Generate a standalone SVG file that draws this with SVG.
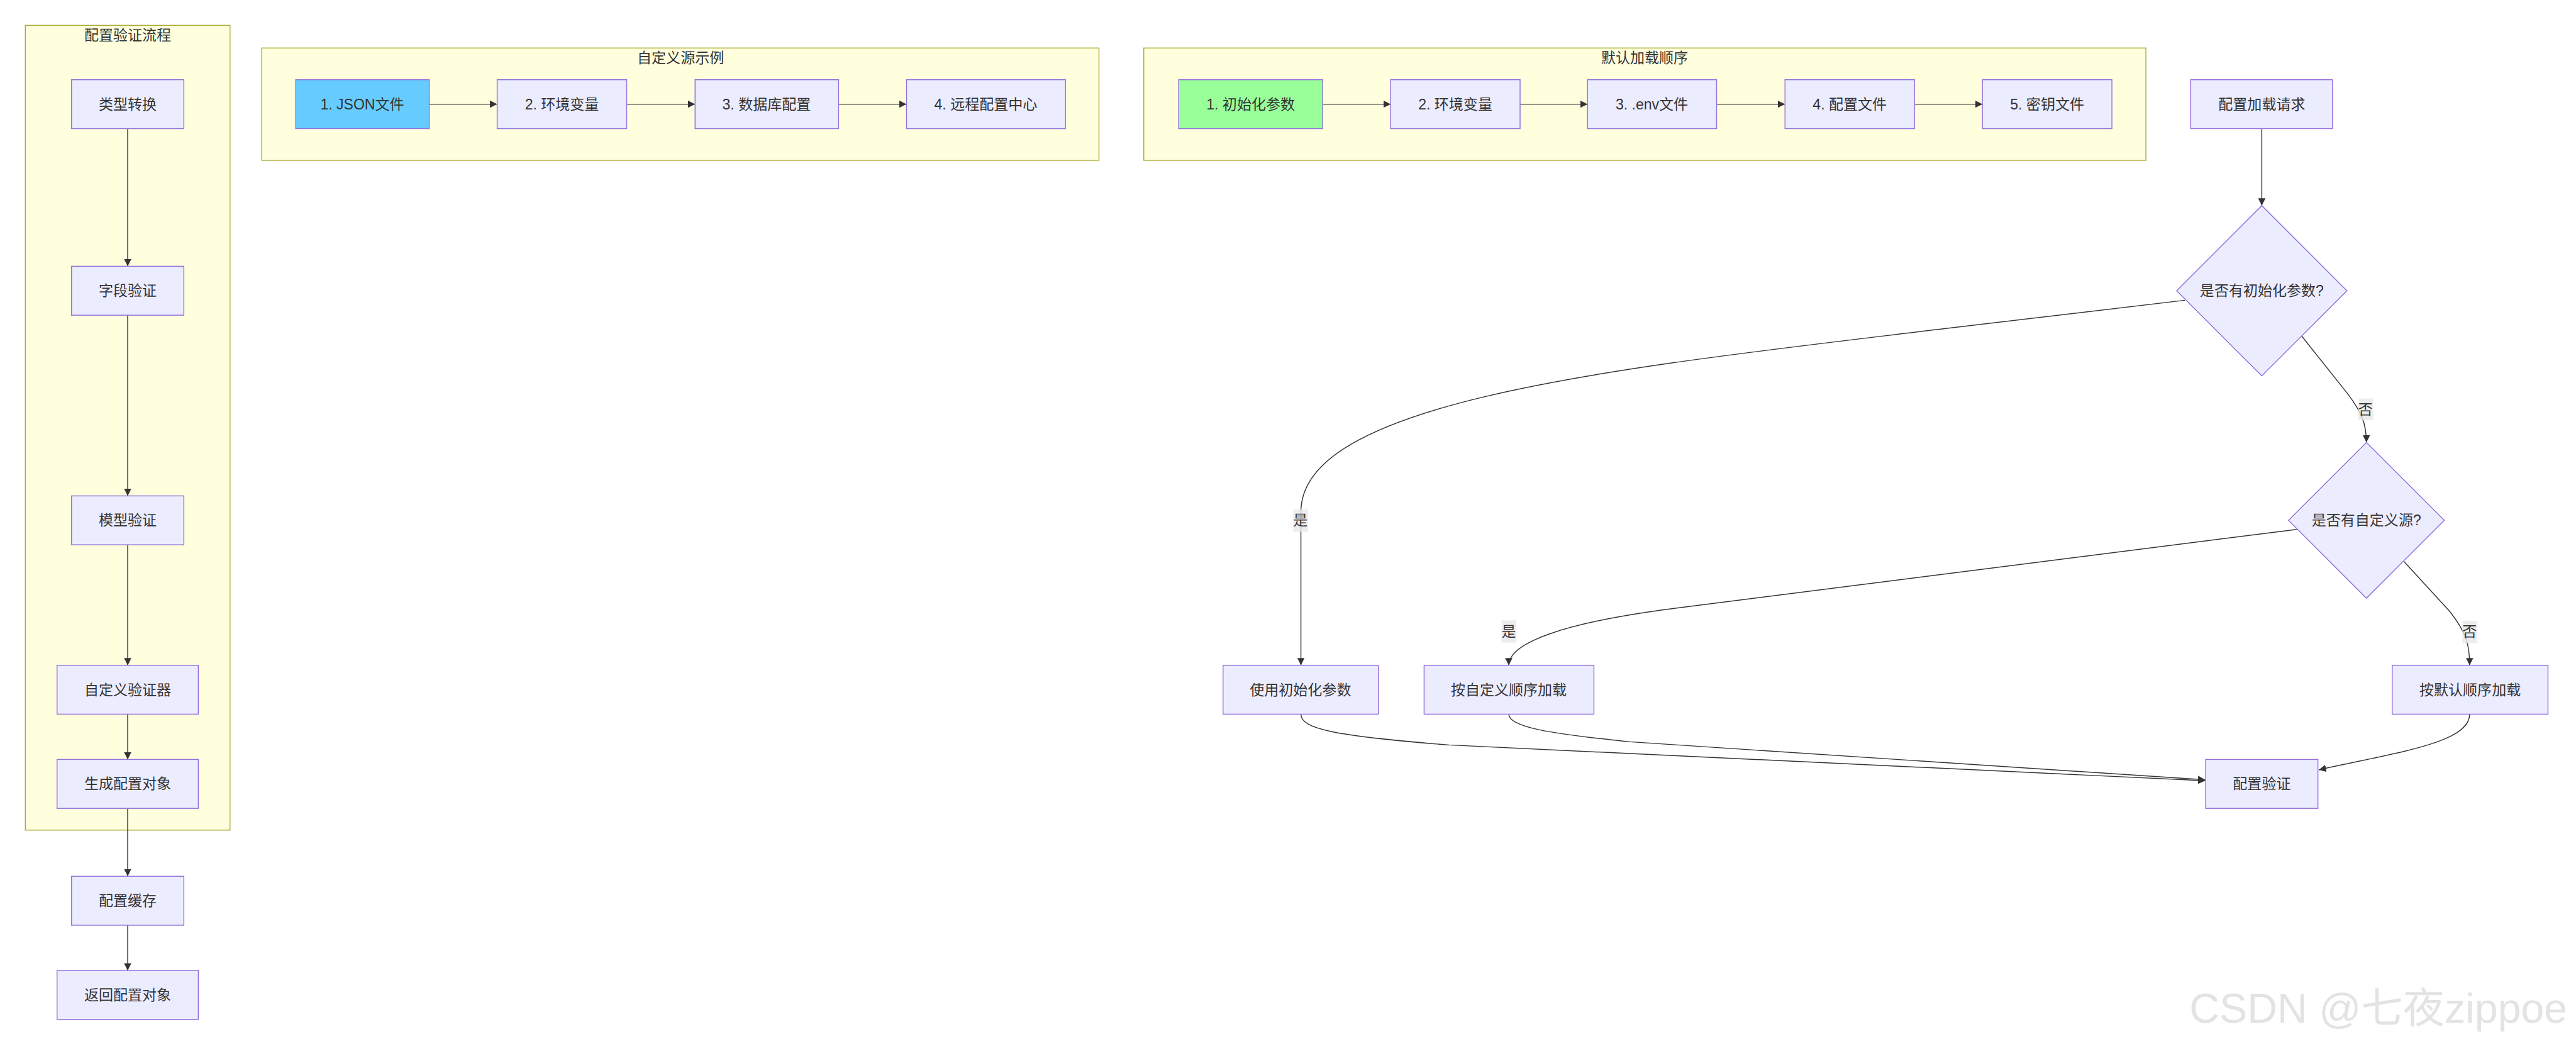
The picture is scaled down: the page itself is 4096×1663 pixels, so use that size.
<svg xmlns="http://www.w3.org/2000/svg" width="4096" height="1663" viewBox="0 0 4096 1663">
<defs>
<marker id="arrow" viewBox="0 0 10 10" refX="10" refY="5" markerUnits="userSpaceOnUse" markerWidth="16" markerHeight="16" orient="auto">
<path d="M0,0 L10,5 L0,10 z" fill="#333333"/>
</marker>
<style>
.cluster rect{fill:#ffffde;stroke:#aaaa33;stroke-width:2}
.node rect,.node polygon{fill:#ececff;stroke:#9370db;stroke-width:2}
text{font-family:"Liberation Sans","Noto Sans CJK SC",sans-serif;fill:#333333;font-size:32px}
.lbl{text-anchor:middle;dominant-baseline:central}
.edge{fill:none;stroke:#333333;stroke-width:2;marker-end:url(#arrow)}
.elbl{fill:rgba(232,232,232,0.8);stroke:none}
</style>
</defs>
<rect width="4096" height="1663" fill="#ffffff"/>
<g transform="scale(0.72)">
<g id="clusters" class="cluster">
<g id="cluster-validate"><rect x="56" y="56" width="452" height="1777"/><text class="lbl" x="282" y="78">配置验证流程</text></g>
<g id="cluster-custom"><rect x="578" y="106" width="1849" height="248"/><text class="lbl" x="1503" y="128">自定义源示例</text></g>
<g id="cluster-default"><rect x="2526" y="106" width="2213" height="248"/><text class="lbl" x="3632" y="128">默认加载顺序</text></g>
</g>
<g id="connectors">
<path class="edge" d="M282,284 L282,588"/>
<path class="edge" d="M282,696 L282,1095"/>
<path class="edge" d="M282,1203 L282,1469"/>
<path class="edge" d="M282,1577 L282,1677"/>
<path class="edge" d="M282,1785 L282,1935"/>
<path class="edge" d="M282,2043 L282,2143"/>
<path class="edge" d="M948,230 L1098,230"/>
<path class="edge" d="M1384,230 L1535,230"/>
<path class="edge" d="M1852,230 L2002,230"/>
<path class="edge" d="M2921,230 L3071,230"/>
<path class="edge" d="M3357,230 L3506,230"/>
<path class="edge" d="M3791,230 L3942,230"/>
<path class="edge" d="M4228,230 L4378,230"/>
<path class="edge" d="M4995,284 L4995,454"/>
<path class="edge" d="M4825,663 L4300,725 C3600,810 2873,880 2873,1130 L2873,1469"/>
<path class="edge" d="M5083,742 L5185,870 C5215,910 5226,935 5226,977"/>
<path class="edge" d="M5072,1169 L3700,1343 C3450,1375 3332,1420 3332,1469"/>
<path class="edge" d="M5309,1240 L5410,1350 C5445,1395 5454,1420 5454,1469"/>
<path class="edge" d="M2873,1577 C2873,1610 2950,1625 3200,1645 L4870,1724"/>
<path class="edge" d="M3332,1577 C3332,1605 3420,1620 3600,1638 L4870,1722"/>
<path class="edge" d="M5454,1577 C5454,1640 5300,1660 5121,1700"/>
<g id="edge-labels">
<rect class="elbl" x="2856" y="1125" width="33" height="49"/><text class="lbl" x="2872" y="1149">是</text>
<rect class="elbl" x="3316" y="1370" width="33" height="49"/><text class="lbl" x="3332" y="1394">是</text>
<rect class="elbl" x="5208" y="880" width="33" height="48"/><text class="lbl" x="5224" y="904">否</text>
<rect class="elbl" x="5438" y="1371" width="33" height="49"/><text class="lbl" x="5454" y="1395">否</text>
</g>
</g>
<g id="n-type" class="node"><rect x="158" y="176" width="248" height="108"/><text class="lbl" x="282" y="230">类型转换</text></g>
<g id="n-field" class="node"><rect x="158" y="588" width="248" height="108"/><text class="lbl" x="282" y="642">字段验证</text></g>
<g id="n-model" class="node"><rect x="158" y="1095" width="248" height="108"/><text class="lbl" x="282" y="1149">模型验证</text></g>
<g id="n-customval" class="node"><rect x="126" y="1469" width="312" height="108"/><text class="lbl" x="282" y="1523">自定义验证器</text></g>
<g id="n-gen" class="node"><rect x="126" y="1677" width="312" height="108"/><text class="lbl" x="282" y="1731">生成配置对象</text></g>
<g id="n-cache" class="node"><rect x="158" y="1935" width="248" height="108"/><text class="lbl" x="282" y="1989">配置缓存</text></g>
<g id="n-return" class="node"><rect x="126" y="2143" width="312" height="108"/><text class="lbl" x="282" y="2197">返回配置对象</text></g>
<g id="s1" class="node"><rect x="653" y="176" width="295" height="108" style="fill:#66ccff"/><text class="lbl" x="800" y="230">1. JSON文件</text></g>
<g id="s2" class="node"><rect x="1098" y="176" width="286" height="108"/><text class="lbl" x="1241" y="230">2. 环境变量</text></g>
<g id="s3" class="node"><rect x="1535" y="176" width="317" height="108"/><text class="lbl" x="1693" y="230">3. 数据库配置</text></g>
<g id="s4" class="node"><rect x="2002" y="176" width="351" height="108"/><text class="lbl" x="2177" y="230">4. 远程配置中心</text></g>
<g id="d1" class="node"><rect x="2603" y="176" width="318" height="108" style="fill:#99ff99"/><text class="lbl" x="2762" y="230">1. 初始化参数</text></g>
<g id="d2" class="node"><rect x="3071" y="176" width="286" height="108"/><text class="lbl" x="3214" y="230">2. 环境变量</text></g>
<g id="d3" class="node"><rect x="3506" y="176" width="285" height="108"/><text class="lbl" x="3648" y="230">3. .env文件</text></g>
<g id="d4" class="node"><rect x="3942" y="176" width="286" height="108"/><text class="lbl" x="4085" y="230">4. 配置文件</text></g>
<g id="d5" class="node"><rect x="4378" y="176" width="286" height="108"/><text class="lbl" x="4521" y="230">5. 密钥文件</text></g>
<g id="req" class="node"><rect x="4838" y="176" width="313" height="108"/><text class="lbl" x="4995" y="230">配置加载请求</text></g>
<g id="q1" class="node"><polygon points="4995,454 5183,642 4995,830 4807,642"/><text class="lbl" x="4995" y="642">是否有初始化参数?</text></g>
<g id="q2" class="node"><polygon points="5226,977 5398,1149 5226,1321 5054,1149"/><text class="lbl" x="5226" y="1149">是否有自定义源?</text></g>
<g id="useinit" class="node"><rect x="2701" y="1469" width="343" height="108"/><text class="lbl" x="2872" y="1523">使用初始化参数</text></g>
<g id="loadcustom" class="node"><rect x="3145" y="1469" width="375" height="108"/><text class="lbl" x="3332" y="1523">按自定义顺序加载</text></g>
<g id="loaddefault" class="node"><rect x="5283" y="1469" width="344" height="108"/><text class="lbl" x="5455" y="1523">按默认顺序加载</text></g>
<g id="validate" class="node"><rect x="4871" y="1677" width="248" height="108"/><text class="lbl" x="4995" y="1731">配置验证</text></g>
<text x="4835" y="2258" style="font-size:92px;fill:#e3e3e3">CSDN @七夜zippoe</text>
</g>
</svg>
